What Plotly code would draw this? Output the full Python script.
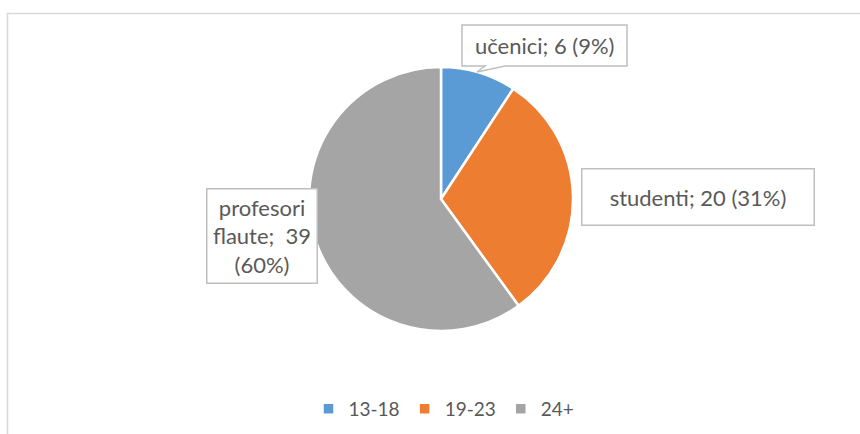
import plotly.graph_objects as go

W, H = 860, 434

age_groups = ["13-18", "19-23", "24+"]
group_names = ["učenici", "studenti", "profesori<br>flaute; "]
counts = [6, 20, 39]
colors = ["#5B9BD5", "#ED7D31", "#A5A5A5"]

total = sum(counts)
pct = [round(100 * c / total) for c in counts]


def px(x):
    return x / W


def py(y):
    return 1 - y / H


fig = go.Figure()
cx, cy, r = 441, 199, 132
fig.add_trace(go.Pie(
    labels=age_groups,
    values=counts,
    marker=dict(colors=colors, line=dict(color="white", width=2.5)),
    sort=False,
    direction="clockwise",
    rotation=0,
    textinfo="none",
    hoverinfo="label+value+percent",
    domain=dict(x=[px(cx - r), px(cx + r)], y=[py(cy + r), py(cy - r)]),
))

FAM = "Lato, Open Sans, sans-serif"
font = dict(family=FAM, size=22, color="#595959")

# callout for first slice (box with pointer)
bx0, by0, bx1, by1 = 462, 25, 627, 66
tip = (477, 72)
path = (f"M {px(bx0)},{py(by0)} L {px(bx1)},{py(by0)} L {px(bx1)},{py(by1)} "
        f"L {px(505)},{py(by1)} L {px(tip[0])},{py(tip[1])} L {px(485)},{py(by1)} "
        f"L {px(bx0)},{py(by1)} Z")
shapes = [
    dict(type="path", xref="paper", yref="paper", path=path,
         line=dict(color="#BFBFBF", width=1.5), fillcolor="white", layer="above"),
    dict(type="rect", xref="paper", yref="paper", x0=px(7.5), y0=py(H + 20), x1=px(W + 20), y1=py(13.5),
         line=dict(color="#D9D9D9", width=1.5), fillcolor="rgba(0,0,0,0)", layer="below"),
]

common = dict(xref="paper", yref="paper", xanchor="center", yanchor="middle",
              showarrow=False, font=font)
annotations = [
    dict(x=px((bx0 + bx1) / 2), y=py((by0 + by1) / 2),
         text=f"{group_names[0]}; {counts[0]} ({pct[0]}%)", **common),
    dict(x=px(698), y=py(197),
         text=f"{group_names[1]}; {counts[1]} ({pct[1]}%)",
         bordercolor="#BFBFBF", borderwidth=1.5, borderpad=0, bgcolor="white",
         width=231, height=55, **common),
    dict(x=px(262), y=py(236),
         text=f"{group_names[2]} {counts[2]}<br>({pct[2]}%)",
         bordercolor="#BFBFBF", borderwidth=1.5, borderpad=0, bgcolor="white",
         width=109, height=93, **common),
]

fig.update_layout(
    width=W, height=H,
    margin=dict(l=0, r=0, t=0, b=0),
    paper_bgcolor="white",
    plot_bgcolor="white",
    showlegend=True,
    legend=dict(orientation="h", x=px(444), xanchor="center", y=py(409), yanchor="middle",
                font=dict(family=FAM, size=19, color="#595959"),
                itemwidth=30, tracegroupgap=0),
    shapes=shapes,
    annotations=annotations,
)

fig.write_html("out.html", config={"displayModeBar": False},
               post_script="document.body.style.margin='0';document.body.style.overflow='hidden';")
